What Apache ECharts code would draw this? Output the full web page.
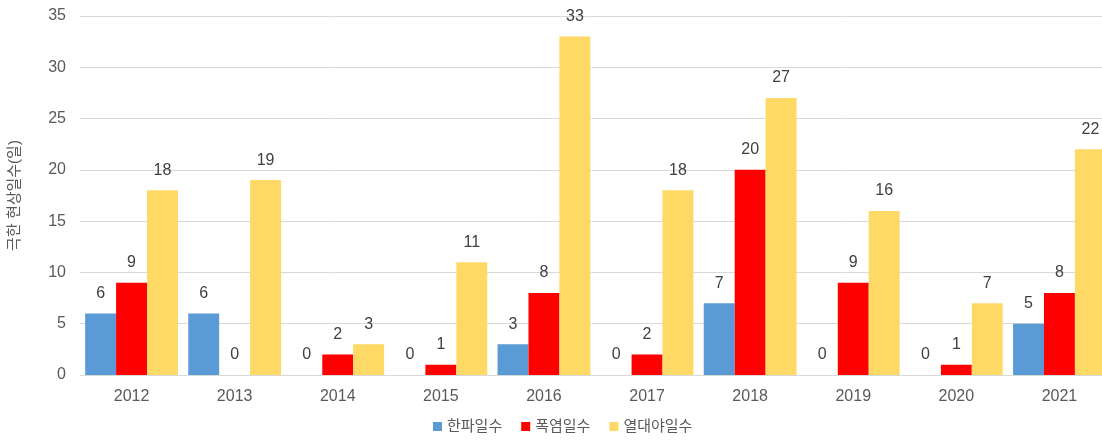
<!DOCTYPE html>
<html>
<head>
<meta charset="utf-8">
<script src="https://cdn.jsdelivr.net/npm/echarts@6/dist/echarts.min.js"></script>
<style>
  html, body { margin: 0; padding: 0; background: #fff; }
  #chart { width: 1102px; height: 440px; }
</style>
</head>
<body>
<div id="chart"></div>
<script>
// 연도
const years = ["2012", "2013", "2014", "2015", "2016", "2017", "2018", "2019", "2020", "2021"];
// 극한 현상일수
const coldDays = [6, 6, 0, 0, 3, 0, 7, 0, 0, 5];
const heatDays = [9, 0, 2, 1, 8, 2, 20, 9, 1, 8];
const tropicalNights = [18, 19, 3, 11, 33, 18, 27, 16, 7, 22];
const yTicks = [0, 5, 10, 15, 20, 25, 30, 35];

const font = "'Liberation Sans', 'Noto Sans CJK KR', sans-serif";

const makeSeries = (name, data, color) => ({
  name: name,
  type: "bar",
  data: data,
  barGap: "0%",
  barCategoryGap: "10%",
  itemStyle: { color: color },
  label: {
    show: true,
    position: "top",
    distance: 12,
    color: "#404040",
    fontSize: 16,
    fontFamily: font,
  },
});

const chart = echarts.init(document.getElementById("chart"));
chart.setOption({
  animation: false,
  textStyle: { fontFamily: font },
  // 오른쪽 끝이 잘린 원본처럼 그리드를 화면 밖까지 늘림
  grid: { left: 80, width: 1031, top: 16, bottom: 65, outerBoundsMode: "none" },
  legend: {
    bottom: 1,
    left: 428,
    icon: "rect",
    itemWidth: 9,
    itemHeight: 9,
    itemGap: 19,
    textStyle: { color: "#595959", fontSize: 15, fontFamily: font },
    data: ["한파일수", "폭염일수", "열대야일수"],
  },
  xAxis: {
    type: "category",
    data: years,
    axisTick: { show: false },
    axisLine: { lineStyle: { color: "#d9d9d9" } },
    axisLabel: { color: "#595959", fontSize: 16, margin: 14, fontFamily: font },
  },
  yAxis: {
    type: "value",
    min: yTicks[0],
    max: yTicks[yTicks.length - 1],
    interval: 5,
    name: "극한 현상일수(일)",
    nameLocation: "middle",
    nameGap: 58,
    nameTextStyle: { color: "#595959", fontSize: 15, fontFamily: font },
    axisLabel: { color: "#595959", fontSize: 16, margin: 14, fontFamily: font },
    splitLine: { lineStyle: { color: "#d9d9d9" } },
  },
  series: [
    makeSeries("한파일수", coldDays, "#5b9bd5"),
    makeSeries("폭염일수", heatDays, "#ff0000"),
    makeSeries("열대야일수", tropicalNights, "#ffd966"),
  ],
});
</script>
</body>
</html>
